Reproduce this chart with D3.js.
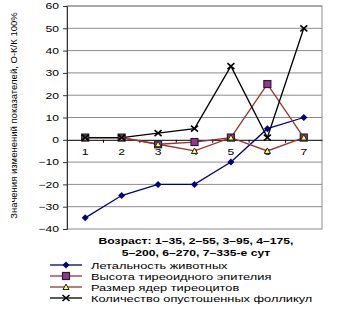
<!DOCTYPE html>
<html><head><meta charset="utf-8">
<script src="https://cdn.jsdelivr.net/npm/d3@7"></script>
<style>body{margin:0;background:#fff}svg{display:block}</style>
</head><body><svg id="c" width="344" height="323"></svg>
<script>
const categories = ["1","2","3","4","5","6","7"];
const yTicks = [-40,-30,-20,-10,0,10,20,30,40,50,60];
const lethality = [-35,-25,-20,-20,-10,5,10];
const epithelium = [1,1,-2,-1,1,25,1];
const nuclei = [1,1,-2,-5,1,-5,1];
const follicles = [1,1,3,5,33,1,50];
const seriesNames = ["Летальность животных","Высота тиреоидного эпителия","Размер ядер тиреоцитов","Количество опустошенных фолликул"];
const yTitle = "Значения изменений показателей, О-К/К 100%";
const xTitle1 = "Возраст: 1–35, 2–55, 3–95, 4–175,";
const xTitle2 = "5–200, 6–270, 7–335-е сут";

const svg = d3.select("#c");
const L=67, R=322, T=6, B=229;
const SX = 1.35;
const x = d3.scaleBand().domain(categories).range([L,R]);
const y = d3.scaleLinear().domain([-40,60]).range([B,T]);
const font = "Arial, 'Liberation Sans', sans-serif";

// gridlines
svg.append("g").selectAll("line").data(yTicks.filter(d=>d!==-40&&d!==0)).join("line")
  .attr("x1",L).attr("x2",R).attr("y1",d=>y(d)).attr("y2",d=>y(d))
  .attr("stroke","#8c8c8c").attr("stroke-width",1);
// border
svg.append("rect").attr("x",L).attr("y",T).attr("width",R-L).attr("height",B-T)
  .attr("fill","none").attr("stroke","#8c8c8c");

// y axis
const ya = svg.append("g").attr("transform",`translate(${L},0)`)
  .call(d3.axisLeft(y).tickValues(yTicks).tickSize(4).tickPadding(3));
ya.select(".domain").attr("stroke","#333");
ya.selectAll("line").attr("stroke","#333");
ya.selectAll(".tick text").each(function(){
  const t = d3.select(this);
  t.attr("x",0).attr("transform",`translate(-8,0) scale(${SX},1)`);
}).attr("font-family",font).attr("font-size",9).attr("fill","#000");

// x axis at zero
const xa = svg.append("g").attr("transform",`translate(0,${y(0)})`)
  .call(d3.axisBottom(x).tickSize(0).tickPadding(9));
xa.select(".domain").attr("stroke","#000");
xa.selectAll(".tick text").attr("transform",`scale(${SX},1)`)
  .attr("font-family",font).attr("font-size",9).attr("fill","#000");
svg.append("g").selectAll("line").data(categories.slice(1)).join("line")
  .attr("x1",d=>x(d)).attr("x2",d=>x(d)).attr("y1",y(0)).attr("y2",y(0)+3)
  .attr("stroke","#000");

const series = [
  {vals:lethality, line:"#000080", marker:"diamond", fill:"#000080", stroke:"#000080"},
  {vals:epithelium, line:"#993333", marker:"square", fill:"#993399", stroke:"#222"},
  {vals:nuclei, line:"#993333", marker:"triangle", fill:"#ffff66", stroke:"#222"},
  {vals:follicles, line:"#000", marker:"x", fill:"none", stroke:"#000"}
];
const cx = d=>x(d)+x.bandwidth()/2;
const lineGen = (vals)=>d3.line().x((v,i)=>cx(categories[i])).y(v=>y(v))(vals);

function drawMarker(g, type, px, py, s){
  if(type==="diamond"){
    g.append("path").attr("d",`M${px},${py-3.5}L${px+3.5},${py}L${px},${py+3.5}L${px-3.5},${py}Z`)
      .attr("fill",s.fill);
  } else if(type==="square"){
    g.append("rect").attr("x",px-3.5).attr("y",py-3.5).attr("width",7).attr("height",7)
      .attr("fill",s.fill).attr("stroke",s.stroke).attr("stroke-width",1.2);
  } else if(type==="triangle"){
    g.append("path").attr("d",`M${px},${py-3}L${px+3},${py+2.5}L${px-3},${py+2.5}Z`)
      .attr("fill",s.fill).attr("stroke",s.stroke).attr("stroke-width",1);
  } else {
    g.append("path").attr("d",`M${px-3.5},${py-3}L${px+3.5},${py+3}M${px-3.5},${py+3}L${px+3.5},${py-3}`)
      .attr("stroke",s.stroke).attr("stroke-width",1.6);
  }
}

series.forEach(s=>{
  svg.append("path").attr("d",lineGen(s.vals)).attr("fill","none")
    .attr("stroke",s.line).attr("stroke-width",1.3);
});
series.forEach(s=>{
  const g = svg.append("g");
  s.vals.forEach((v,i)=>drawMarker(g,s.marker,cx(categories[i]),y(v),s));
});

// y title
svg.append("text").attr("transform",`translate(17,${(T+B)/2-2}) rotate(-90)`)
  .attr("text-anchor","middle").attr("font-family","'Liberation Sans Narrow', 'Arial Narrow', Arial, sans-serif")
  .attr("font-size",9.5).text(yTitle);

// x title
svg.append("text").attr("transform",`translate(196,244) scale(${SX},1)`).attr("text-anchor","middle")
  .attr("font-family",font).attr("font-size",9).attr("font-weight","bold").text(xTitle1);
svg.append("text").attr("transform",`translate(196,256) scale(${SX},1)`).attr("text-anchor","middle")
  .attr("font-family",font).attr("font-size",9).attr("font-weight","bold").text(xTitle2);

// legend
const legY = [265,276,287,298];
series.forEach((s,i)=>{
  const g = svg.append("g");
  g.append("line").attr("x1",50).attr("x2",82).attr("y1",legY[i]).attr("y2",legY[i])
    .attr("stroke",s.line).attr("stroke-width",1.3);
  drawMarker(g,s.marker,66,legY[i],s);
  g.append("text").attr("transform",`translate(91,${legY[i]+3.5}) scale(${SX},1)`).attr("font-family",font)
    .attr("font-size",9.5).text(seriesNames[i]);
});
</script></body></html>
